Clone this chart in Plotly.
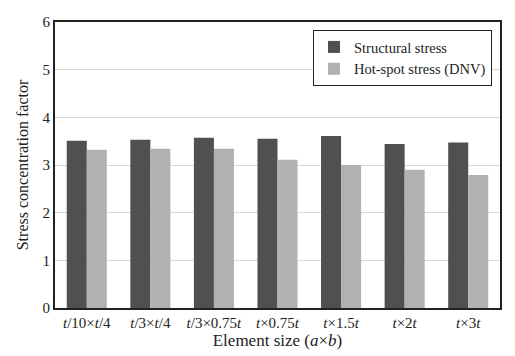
import plotly.graph_objects as go

categories = ["<i>t</i>/10×<i>t</i>/4", "<i>t</i>/3×<i>t</i>/4", "<i>t</i>/3×0.75<i>t</i>",
              "<i>t</i>×0.75<i>t</i>", "<i>t</i>×1.5<i>t</i>", "<i>t</i>×2<i>t</i>", "<i>t</i>×3<i>t</i>"]
structural = [3.51, 3.53, 3.57, 3.55, 3.61, 3.44, 3.47]
hotspot = [3.32, 3.34, 3.34, 3.11, 3.00, 2.90, 2.79]
yticks = [0, 1, 2, 3, 4, 5, 6]

font = "Liberation Serif, Times New Roman, serif"

fig = go.Figure()
fig.add_trace(go.Bar(x=categories, y=structural, name="Structural stress",
                     marker=dict(color="#505052", line=dict(width=0))))
fig.add_trace(go.Bar(x=categories, y=hotspot, name="Hot-spot stress (DNV)",
                     marker=dict(color="#b1b1b3", line=dict(width=0))))

fig.update_layout(
    width=507, height=348,
    margin=dict(l=47, r=15, t=14, b=48, autoexpand=False),
    paper_bgcolor="white", plot_bgcolor="white",
    font=dict(family=font, size=15, color="#222"),
    barmode="group", bargap=0.37, bargroupgap=0,
    showlegend=True,
    legend=dict(x=0.982, y=0.972, xanchor="right", yanchor="top",
                bordercolor="#222", borderwidth=1, bgcolor="white",
                font=dict(family=font, size=14.5, color="#222"),
                itemwidth=30, tracegroupgap=2),
    xaxis=dict(showline=True, linecolor="#222", linewidth=2, mirror=True,
               ticks="", tickfont=dict(size=15), automargin=False,
               title=dict(text="Element size (<i>a</i>×<i>b</i>)", font=dict(size=17), standoff=2)),
    yaxis=dict(range=[0, 6], tickvals=yticks, showline=True, linecolor="#222",
               linewidth=2, mirror=True, ticks="", showgrid=True, gridcolor="#d9d9d9",
               gridwidth=1, zeroline=False, tickfont=dict(size=15), automargin=False,
               title=dict(text="Stress concentration factor", font=dict(size=16), standoff=10)),
)

fig.write_html("out.html")
